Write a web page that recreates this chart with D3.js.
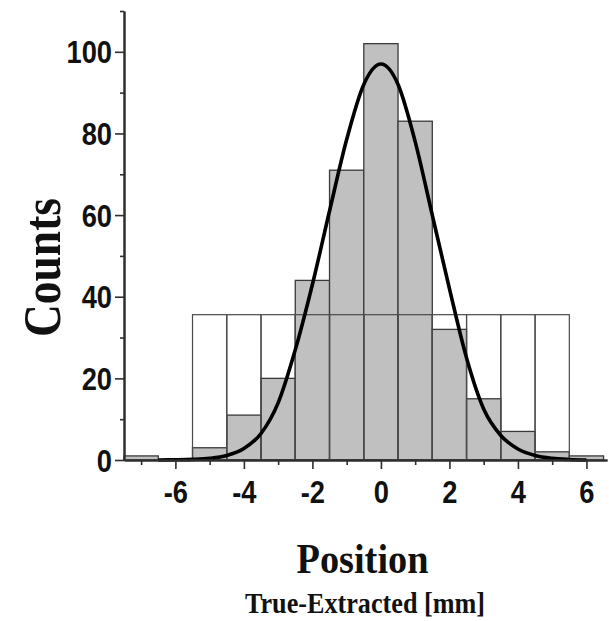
<!DOCTYPE html>
<html>
<head>
<meta charset="utf-8">
<script src="https://cdn.jsdelivr.net/npm/d3@7"></script>
<style>
  html, body { margin: 0; padding: 0; background: #fff; }
  svg { display: block; }
</style>
</head>
<body>
<script>
// Histogram of position residuals (true minus extracted), 1 mm bins
const binCenters = [-7, -6, -5, -4, -3, -2, -1, 0, 1, 2, 3, 4, 5, 6];
const binCounts  = [1, 0, 3, 11, 20, 44, 71, 102, 83, 32, 15, 7, 2, 1];

// Flat reference distribution over the same events (outline only)
const flatCenters = [-5, -4, -3, -2, -1, 0, 1, 2, 3, 4, 5];
const flatCounts  = [35.6, 35.6, 35.6, 35.6, 35.6, 35.6, 35.6, 35.6, 35.6, 35.6, 35.6];

// Gaussian fit curve, sampled points
const fitX = [-6.5, -6, -5.5, -5, -4.5, -4, -3.5, -3, -2.5, -2, -1.5, -1, -0.5, 0,
              0.5, 1, 1.5, 2, 2.5, 3, 3.5, 4, 4.5, 5, 5.5, 6];
const fitY = [0, 0.05, 0.15, 0.4, 1.1, 2.8, 6.5, 14, 27, 43, 61, 78.5, 92, 97,
              92, 78, 60, 42, 25, 12.5, 6, 2.7, 1.1, 0.4, 0.12, 0];

// Axis ticks
const xMajor = [-6, -4, -2, 0, 2, 4, 6];
const xMajorLabels = ["-6", "-4", "-2", "0", "2", "4", "6"];
const xMinor = [-7, -5, -3, -1, 1, 3, 5];
const yMajor = [0, 20, 40, 60, 80, 100];
const yMajorLabels = ["0", "20", "40", "60", "80", "100"];
const yMinor = [10, 30, 50, 70, 90, 110];

const W = 609, H = 621;
const binWidth = 1;

const svg = d3.select("body").append("svg")
  .attr("width", W).attr("height", H);

svg.append("rect").attr("width", W).attr("height", H).attr("fill", "#fff");

const x = d3.scaleLinear().domain([-7.5, 6.6]).range([124, 607]);
const y = d3.scaleLinear().domain([0, 110]).range([460, 11]);

// Filled histogram
svg.append("g").selectAll("rect")
  .data(binCenters.map((c, i) => ({ c, v: binCounts[i] })))
  .join("rect")
  .attr("x", d => x(d.c - binWidth / 2))
  .attr("width", d => x(d.c + binWidth / 2) - x(d.c - binWidth / 2))
  .attr("y", d => y(d.v))
  .attr("height", d => y(0) - y(d.v))
  .attr("fill", "#c0c0c0")
  .attr("stroke", "#3a3a3a")
  .attr("stroke-width", 1.3);

// Flat distribution outlines
svg.append("g").selectAll("rect")
  .data(flatCenters.map((c, i) => ({ c, v: flatCounts[i] })))
  .join("rect")
  .attr("x", d => x(d.c - binWidth / 2))
  .attr("width", d => x(d.c + binWidth / 2) - x(d.c - binWidth / 2))
  .attr("y", d => y(d.v))
  .attr("height", d => y(0) - y(d.v))
  .attr("fill", "none")
  .attr("stroke", "#4a4a4a")
  .attr("stroke-width", 1.2);

// Fit curve
const line = d3.line()
  .x((d, i) => x(fitX[i]))
  .y(d => y(d))
  .curve(d3.curveMonotoneX);

svg.append("path")
  .attr("d", line(fitY))
  .attr("fill", "none")
  .attr("stroke", "#000")
  .attr("stroke-width", 3.6)
  .attr("stroke-linejoin", "round");

// Axes
const tickFont = "'Liberation Sans', Arial, Helvetica, sans-serif";
const axisColor = "#2e2e2e";

function styleAxis(g) {
  g.select(".domain").attr("stroke", axisColor).attr("stroke-width", 2);
  g.selectAll(".tick line").attr("stroke", axisColor).attr("stroke-width", 1.6);
}

// y minor
const gyMinor = svg.append("g").attr("transform", `translate(${x(-7.5)},0)`)
  .call(d3.axisLeft(y).tickValues(yMinor).tickSize(4).tickSizeOuter(0).tickFormat(""));
styleAxis(gyMinor);

// y major
const gy = svg.append("g").attr("transform", `translate(${x(-7.5)},0)`)
  .call(d3.axisLeft(y).tickValues(yMajor).tickSize(9).tickSizeOuter(0)
    .tickFormat((d, i) => yMajorLabels[i]));
styleAxis(gy);
gy.selectAll(".tick text")
  .attr("x", null).attr("dy", "0.36em")
  .attr("transform", "translate(-12,0) scale(0.88,1)")
  .attr("text-anchor", "end")
  .style("font-family", tickFont)
  .style("font-weight", "bold")
  .style("font-size", "31px")
  .attr("fill", "#111");

// x minor
const gxMinor = svg.append("g").attr("transform", `translate(0,${y(0)})`)
  .call(d3.axisBottom(x).tickValues(xMinor).tickSize(5).tickSizeOuter(0).tickFormat(""));
styleAxis(gxMinor);

// x major
const gx = svg.append("g").attr("transform", `translate(0,${y(0)})`)
  .call(d3.axisBottom(x).tickValues(xMajor).tickSize(9).tickSizeOuter(0)
    .tickFormat((d, i) => xMajorLabels[i]));
styleAxis(gx);
gx.selectAll(".tick text")
  .attr("y", null).attr("dy", null)
  .attr("transform", "translate(0,43) scale(0.88,1)")
  .attr("text-anchor", "middle")
  .style("font-family", tickFont)
  .style("font-weight", "bold")
  .style("font-size", "31px")
  .attr("fill", "#111");

// Axis titles
const titleFont = "'Liberation Serif', 'Times New Roman', Times, serif";

svg.append("text")
  .attr("transform", "translate(60,267.5) rotate(-90)")
  .attr("text-anchor", "middle")
  .attr("textLength", 139)
  .attr("lengthAdjust", "spacingAndGlyphs")
  .style("font-family", titleFont)
  .style("font-weight", "bold")
  .style("font-size", "52px")
  .attr("fill", "#111")
  .text("Counts");

svg.append("text")
  .attr("x", 362.5).attr("y", 573)
  .attr("text-anchor", "middle")
  .attr("textLength", 132)
  .attr("lengthAdjust", "spacingAndGlyphs")
  .style("font-family", titleFont)
  .style("font-weight", "bold")
  .style("font-size", "42px")
  .attr("fill", "#111")
  .text("Position");

svg.append("text")
  .attr("x", 365).attr("y", 613)
  .attr("text-anchor", "middle")
  .attr("textLength", 240)
  .attr("lengthAdjust", "spacingAndGlyphs")
  .style("font-family", titleFont)
  .style("font-weight", "bold")
  .style("font-size", "30px")
  .attr("fill", "#111")
  .text("True-Extracted [mm]");
</script>
</body>
</html>
